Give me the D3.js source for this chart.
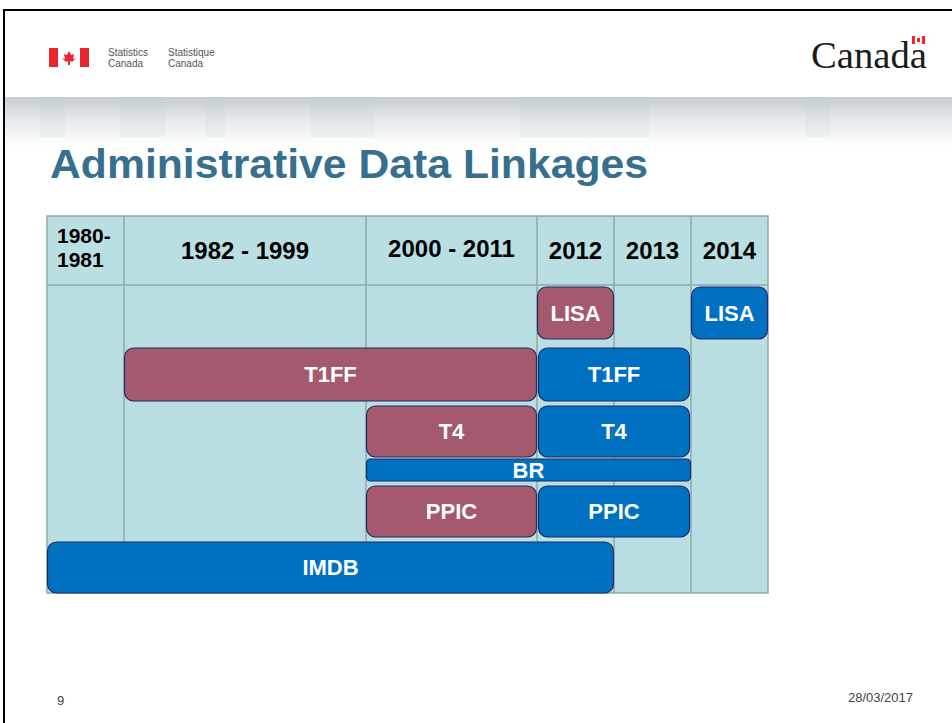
<!DOCTYPE html>
<html>
<head>
<meta charset="utf-8">
<script src="https://cdn.jsdelivr.net/npm/d3@7"></script>
<style>
	body { margin: 0; background: #fff; }
	svg { display: block; font-family: "Liberation Sans", Arial, sans-serif; }
</style>
</head>
<body>
<div id="slide"></div>
<script>
// periods shown as table columns
const periods = ["1980-1981", "1982 - 1999", "2000 - 2011", "2012", "2013", "2014"];
const periodLabels = [["1980-", "1981"], ["1982 - 1999"], ["2000 - 2011"], ["2012"], ["2013"], ["2014"]];
// linkage rows, top to bottom
const rows = ["LISA", "T1FF", "T4", "BR", "PPIC", "IMDB"];
// each bar: label, row, first period, last period, phase
const barLabels = ["LISA", "LISA", "T1FF", "T1FF", "T4", "T4", "BR", "PPIC", "PPIC", "IMDB"];
const barRows   = ["LISA", "LISA", "T1FF", "T1FF", "T4", "T4", "BR", "PPIC", "PPIC", "IMDB"];
const barFrom   = ["2012", "2014", "1982 - 1999", "2012", "2000 - 2011", "2012", "2000 - 2011", "2000 - 2011", "2012", "1980-1981"];
const barTo     = ["2012", "2014", "2000 - 2011", "2013", "2000 - 2011", "2013", "2013", "2000 - 2011", "2013", "2012"];
const barPhase  = ["old", "new", "old", "new", "old", "new", "new", "old", "new", "new"];

const W = 952, H = 723,
	TABLE_L = 47, TABLE_R = 768, HEAD_T = 216, HEAD_B = 285, TABLE_B = 593,
	colWeights = [77, 242, 171, 77, 77, 77],
	rowBox = {LISA: [2, 54], T1FF: [63, 116], T4: [121, 172], BR: [174, 196], PPIC: [201, 252], IMDB: [257, 308]},
	phaseColor = {old: "#a45a6c", new: "#0070c0"};

var svg = d3.select("#slide").append("svg").attr("width", W).attr("height", H);
var defs = svg.append("defs");

// header strip gradient
var grad = defs.append("linearGradient").attr("id", "strip").attr("x1", 0).attr("x2", 0).attr("y1", 0).attr("y2", 1);
grad.append("stop").attr("offset", 0).attr("stop-color", "#c6ced2");
grad.append("stop").attr("offset", .5).attr("stop-color", "#e8ecee");
grad.append("stop").attr("offset", 1).attr("stop-color", "#ffffff");
svg.append("rect").attr("x", 4).attr("y", 97).attr("width", W).attr("height", 50).attr("fill", "url(#strip)");
[[40, 25], [120, 45], [205, 20], [310, 65], [520, 40], [560, 40], [805, 25], [600, 50]].forEach(function(b){
	svg.append("rect").attr("x", b[0]).attr("y", 97).attr("width", b[1]).attr("height", 40)
		.attr("fill", "#b7c2c7").attr("opacity", .12);
});

// slide frame
svg.append("path").attr("d", "M4," + H + "V10H" + W).attr("fill", "none").attr("stroke", "#000").attr("stroke-width", 2);

// StatCan logo
var logo = svg.append("g").attr("transform", "translate(49,48)");
logo.append("rect").attr("width", 9).attr("height", 19).attr("fill", "#e8242f");
logo.append("rect").attr("x", 31).attr("width", 9).attr("height", 19).attr("fill", "#e8242f");
logo.append("path").attr("fill", "#e8242f")
	.attr("d", "M20,3 L22,7 L25,6 L24,11 L27,10 L23,14 L21,13 L21,17 L19,17 L19,13 L17,14 L13,10 L16,11 L15,6 L18,7 Z");
[["Statistics", "Canada", 108], ["Statistique", "Canada", 168]].forEach(function(t){
	var tx = svg.append("text").attr("x", t[2]).attr("y", 56).attr("font-size", 10).attr("fill", "#555");
	tx.append("tspan").attr("x", t[2]).text(t[0]);
	tx.append("tspan").attr("x", t[2]).attr("dy", 11).text(t[1]);
});

// Canada wordmark
svg.append("text").attr("x", 811).attr("y", 68).attr("font-family", "'Liberation Serif', 'Times New Roman', serif")
	.attr("font-size", 38).attr("fill", "#1a1a1a").attr("textLength", 116).attr("lengthAdjust", "spacingAndGlyphs").text("Canada");
var wf = svg.append("g").attr("transform", "translate(912,36)");
wf.append("rect").attr("width", 3).attr("height", 8).attr("fill", "#e8242f");
wf.append("rect").attr("x", 10).attr("width", 3).attr("height", 8).attr("fill", "#e8242f");
wf.append("rect").attr("x", 5).attr("y", 2).attr("width", 3).attr("height", 4).attr("fill", "#e8242f");

// title
svg.append("text").attr("x", 50).attr("y", 178).attr("font-size", 40).attr("font-weight", "bold")
	.attr("fill", "#37708f").attr("textLength", 598).attr("lengthAdjust", "spacingAndGlyphs").text("Administrative Data Linkages");

// column scale from cumulative weights
var cum = [0];
colWeights.forEach(function(w){ cum.push(cum[cum.length - 1] + w); });
var x = d3.scaleLinear().domain([0, cum[cum.length - 1]]).range([TABLE_L, TABLE_R]);
var colL = function(p){ return x(cum[periods.indexOf(p)]); };
var colR = function(p){ return x(cum[periods.indexOf(p) + 1]); };
var y = d3.scaleLinear().domain([0, TABLE_B - HEAD_B]).range([HEAD_B, TABLE_B]);

var table = svg.append("g");
table.append("rect").attr("x", TABLE_L).attr("y", HEAD_T).attr("width", TABLE_R - TABLE_L).attr("height", TABLE_B - HEAD_T)
	.attr("fill", "#badfe2").attr("stroke", "#8fa9ab").attr("stroke-width", 1.5);
table.selectAll("line.col").data(periods.slice(1)).enter().append("line").attr("class", "col")
	.attr("x1", colL).attr("x2", colL).attr("y1", HEAD_T).attr("y2", TABLE_B)
	.attr("stroke", "#8fa9ab").attr("stroke-width", 1.5);
table.append("line").attr("x1", TABLE_L).attr("x2", TABLE_R).attr("y1", HEAD_B).attr("y2", HEAD_B)
	.attr("stroke", "#8fa9ab").attr("stroke-width", 1.5);

// header labels
periods.forEach(function(p, i){
	var lines = periodLabels[i];
	if(lines.length > 1){
		var t = table.append("text").attr("x", colL(p) + 10).attr("y", 243).attr("font-size", 21)
			.attr("font-weight", "bold").attr("fill", "#000");
		lines.forEach(function(l, j){ t.append("tspan").attr("x", colL(p) + 10).attr("dy", j ? 24 : 0).text(l); });
	} else {
		table.append("text").attr("x", (colL(p) + colR(p)) / 2).attr("y", p == "2000 - 2011" ? 257 : 259)
			.attr("text-anchor", "middle").attr("font-size", 24).attr("font-weight", "bold").attr("fill", "#000").text(lines[0]);
	}
});

// bars
var bars = barLabels.map(function(l, i){
	return {label: l, row: barRows[i], from: barFrom[i], to: barTo[i], phase: barPhase[i]};
});
var inset = function(d){ return d.from == "2012" && d.row != "LISA" ? 1.5 : 0.5; };
var g = svg.selectAll("g.bar").data(bars).enter().append("g").attr("class", "bar");
g.append("rect")
	.attr("x", function(d){ return colL(d.from) + inset(d); })
	.attr("y", function(d){ return y(rowBox[d.row][0]); })
	.attr("width", function(d){ return colR(d.to) - colL(d.from) - 2 * inset(d); })
	.attr("height", function(d){ return y(rowBox[d.row][1]) - y(rowBox[d.row][0]); })
	.attr("rx", function(d){ return d.row == "BR" ? 4 : 9; })
	.attr("fill", function(d){ return phaseColor[d.phase]; })
	.attr("stroke", "#1f2a6b").attr("stroke-width", 1.2);
g.append("text")
	.attr("x", function(d){ return (colL(d.from) + colR(d.to)) / 2; })
	.attr("y", function(d){ return (y(rowBox[d.row][0]) + y(rowBox[d.row][1])) / 2; })
	.attr("dy", "0.36em").attr("text-anchor", "middle")
	.attr("font-size", 22).attr("font-weight", "bold").attr("fill", "#fff")
	.text(function(d){ return d.label; });

// footer
svg.append("text").attr("x", 57).attr("y", 705).attr("font-size", 13).attr("fill", "#444").text("9");
svg.append("text").attr("x", 913).attr("y", 702).attr("text-anchor", "end").attr("font-size", 13).attr("fill", "#444").text("28/03/2017");
</script>
</body>
</html>
